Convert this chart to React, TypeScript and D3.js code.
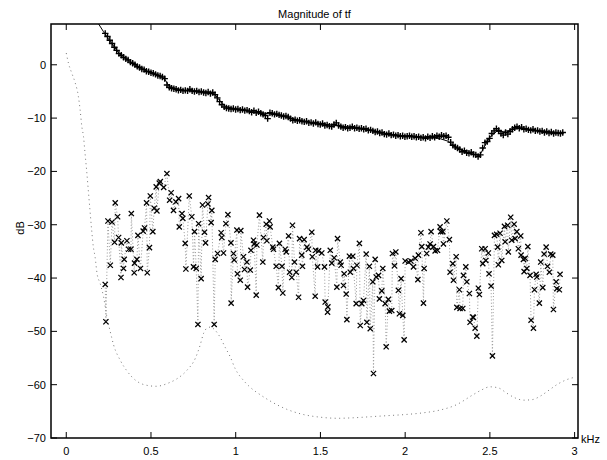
import React from "react";
import * as d3 from "d3";

// ---------- DATA ----------
const xTicks = [0, 0.5, 1, 1.5, 2, 2.5, 3];
const xTickLabels = ["0", "0.5", "1", "1.5", "2", "2.5", "3"];
const yTicks = [-70, -60, -50, -40, -30, -20, -10, 0];
const yTickLabels = ["\u221270", "\u221260", "\u221250", "\u221240", "\u221230", "\u221220", "\u221210", "0"];

// model fit (solid line): [kHz, dB]
const fitLine: [number, number][] = [
  [0.19, 7.7], [0.22, 6.2], [0.25, 4.8], [0.28, 3.5], [0.31, 2.2], [0.35, 1.2], [0.4, 0.1],
  [0.45, -0.8], [0.5, -1.5], [0.55, -2.1], [0.58, -2.6], [0.6, -3.7], [0.63, -4.3], [0.7, -4.8],
  [0.8, -5.0], [0.87, -5.3], [0.9, -6.5], [0.94, -7.8], [1.0, -8.3], [1.1, -8.8], [1.2, -9.2],
  [1.3, -9.8], [1.4, -10.6], [1.5, -11.1], [1.6, -11.4], [1.7, -11.8], [1.8, -12.3], [1.9, -13.0],
  [2.0, -13.4], [2.1, -13.6], [2.2, -13.8], [2.25, -14.3], [2.3, -15.5], [2.35, -16.2], [2.4, -16.7],
  [2.44, -17.0], [2.47, -15.2], [2.5, -13.6], [2.54, -12.5], [2.58, -12.5], [2.62, -12.3],
  [2.66, -11.8], [2.7, -12.0], [2.8, -12.5], [2.93, -12.9],
];

// measured magnitude ('+' markers), on a uniform frequency grid
const plusStart = 0.23;
const plusStep = 0.0135;
const plusDb = [
  5.9, 5.3, 4.6, 4.0, 3.3, 2.7, 2.1, 1.8, 1.4, 1.1, 0.9, 0.5, 0.3, 0.0, -0.3, -0.5, -0.8, -0.9, -1.2, -1.3,
  -1.5, -1.6, -1.8, -2.0, -2.1, -2.3, -2.6, -3.8, -4.2, -4.4, -4.5, -4.6, -4.8, -4.7, -4.9, -4.8, -4.9, -4.6, -4.9, -5.0,
  -4.9, -5.1, -5.0, -5.2, -5.3, -5.1, -5.4, -5.2, -5.6, -6.2, -6.9, -7.5, -7.9, -8.1, -8.2, -8.3, -8.2, -8.4, -8.3, -8.5,
  -8.4, -8.6, -8.5, -8.7, -8.9, -8.6, -9.0, -8.8, -9.1, -9.3, -9.5, -10.1, -9.0, -9.1, -9.3, -9.2, -9.4, -9.5, -9.7, -9.6,
  -9.8, -10.1, -10.4, -10.3, -10.5, -10.4, -10.6, -10.7, -10.6, -10.9, -10.8, -11.0, -10.8, -11.1, -11.2, -11.0, -11.4, -11.3, -11.5, -11.6,
  -11.2, -10.9, -11.4, -11.6, -11.8, -11.7, -11.9, -11.8, -11.6, -11.9, -11.8, -12.0, -11.9, -12.1, -12.0, -12.3, -12.2, -12.4, -12.6, -12.5,
  -12.8, -12.7, -13.0, -13.1, -12.9, -13.2, -13.1, -13.3, -13.2, -13.4, -13.3, -13.5, -13.4, -13.3, -13.5, -13.4, -13.6, -13.5, -13.7, -13.6,
  -13.8, -13.5, -13.7, -13.4, -13.6, -13.3, -13.5, -13.2, -13.4, -13.3, -13.6, -14.5, -15.1, -15.4, -15.6, -15.9, -16.3, -16.1, -16.5, -16.6,
  -16.4, -16.8, -16.9, -17.2, -16.9, -15.6, -14.6, -14.4, -13.8, -12.9, -12.4, -12.0, -12.3, -12.9, -13.2, -12.7, -13.0, -12.5, -12.1, -11.8,
  -11.6, -11.9, -11.7, -12.1, -12.0, -12.2, -12.3, -12.1, -12.4, -12.3, -12.5, -12.4, -12.7, -12.5, -12.8, -12.6, -12.9, -12.7, -12.8, -12.9,
  -12.7,
];

// residual ('x' markers joined by dotted line)
const crossKHz = [
  0.23, 0.234, 0.246, 0.26, 0.27, 0.285, 0.289, 0.303, 0.309, 0.323, 0.325, 0.338, 0.342, 0.358, 0.368, 0.382, 0.384, 0.401, 0.403, 0.417,
  0.423, 0.438, 0.454, 0.462, 0.474, 0.478, 0.491, 0.496, 0.511, 0.519, 0.531, 0.535, 0.549, 0.555, 0.575, 0.594, 0.61, 0.619, 0.633, 0.647,
  0.663, 0.667, 0.683, 0.688, 0.702, 0.706, 0.726, 0.741, 0.751, 0.757, 0.767, 0.777, 0.781, 0.796, 0.804, 0.816, 0.822, 0.836, 0.84, 0.855,
  0.859, 0.873, 0.879, 0.893, 0.914, 0.918, 0.928, 0.942, 0.954, 0.972, 0.973, 0.987, 0.991, 1.007, 1.01, 1.027, 1.03, 1.046, 1.052, 1.066,
  1.07, 1.086, 1.09, 1.105, 1.109, 1.121, 1.125, 1.14, 1.16, 1.164, 1.18, 1.184, 1.199, 1.203, 1.219, 1.223, 1.239, 1.252, 1.258, 1.273,
  1.278, 1.292, 1.298, 1.312, 1.318, 1.331, 1.335, 1.347, 1.357, 1.371, 1.377, 1.39, 1.394, 1.404, 1.42, 1.429, 1.449, 1.452, 1.469, 1.472,
  1.483, 1.489, 1.508, 1.524, 1.528, 1.542, 1.544, 1.558, 1.567, 1.581, 1.597, 1.601, 1.617, 1.622, 1.636, 1.64, 1.652, 1.656, 1.671, 1.676,
  1.691, 1.695, 1.711, 1.715, 1.73, 1.735, 1.744, 1.754, 1.77, 1.774, 1.789, 1.794, 1.809, 1.813, 1.823, 1.829, 1.843, 1.848, 1.862, 1.868,
  1.882, 1.888, 1.901, 1.907, 1.921, 1.925, 1.937, 1.945, 1.96, 1.966, 1.976, 1.986, 1.994, 2.0, 2.02, 2.034, 2.049, 2.059, 2.075, 2.078,
  2.093, 2.098, 2.108, 2.112, 2.127, 2.137, 2.147, 2.153, 2.167, 2.177, 2.191, 2.206, 2.21, 2.222, 2.226, 2.246, 2.261, 2.265, 2.281, 2.285,
  2.301, 2.305, 2.32, 2.324, 2.34, 2.344, 2.358, 2.364, 2.379, 2.383, 2.399, 2.403, 2.413, 2.423, 2.432, 2.438, 2.452, 2.458, 2.472, 2.476,
  2.491, 2.495, 2.507, 2.515, 2.527, 2.54, 2.546, 2.55, 2.56, 2.57, 2.586, 2.59, 2.605, 2.609, 2.623, 2.629, 2.643, 2.649, 2.659, 2.668,
  2.682, 2.684, 2.698, 2.702, 2.708, 2.718, 2.724, 2.737, 2.743, 2.757, 2.763, 2.773, 2.777, 2.792, 2.8, 2.812, 2.82, 2.832, 2.84, 2.851,
  2.859, 2.871, 2.875, 2.891, 2.895, 2.91, 2.914,
];
const crossDb = [
  -41.2, -48.2, -29.3, -37.6, -29.5, -33.3, -25.9, -28.5, -32.4, -39.9, -33.4, -38.2, -36.5, -33.0, -34.6, -34.6, -27.9, -39.0, -37.2, -36.5,
  -32.0, -38.2, -31.2, -30.6, -25.9, -39.0, -34.3, -24.6, -31.3, -26.9, -22.9, -27.4, -22.2, -21.9, -23.0, -20.4, -25.4, -24.0, -27.3, -25.7,
  -25.1, -30.4, -27.9, -28.8, -33.5, -38.3, -24.6, -28.5, -37.9, -31.3, -38.2, -48.7, -29.8, -40.1, -26.3, -31.4, -33.4, -26.1, -24.9, -29.6,
  -27.3, -48.7, -36.5, -35.4, -31.5, -32.4, -35.3, -29.8, -28.1, -33.4, -44.7, -35.4, -36.6, -31.0, -39.2, -40.4, -31.1, -36.0, -38.4, -37.0,
  -41.7, -38.5, -34.8, -32.9, -33.6, -43.2, -33.8, -28.2, -37.0, -32.4, -29.9, -33.0, -29.3, -30.4, -34.2, -34.6, -37.8, -41.8, -33.5, -37.8,
  -42.8, -34.6, -35.1, -32.1, -38.9, -39.9, -30.1, -37.0, -38.9, -43.6, -32.6, -35.7, -37.8, -32.8, -34.2, -34.6, -31.4, -36.0, -43.4, -34.8,
  -37.9, -34.9, -35.3, -37.9, -44.5, -46.4, -45.4, -34.8, -37.2, -36.2, -41.7, -32.6, -37.0, -37.6, -41.4, -39.2, -43.0, -47.8, -35.9, -38.9,
  -35.9, -38.2, -44.8, -37.6, -33.5, -48.9, -44.8, -44.2, -35.5, -48.3, -37.8, -49.5, -40.7, -57.9, -36.5, -39.8, -39.5, -43.9, -42.4, -38.2,
  -44.8, -52.9, -44.0, -46.2, -46.1, -35.4, -37.7, -35.1, -42.3, -46.7, -40.1, -47.0, -51.6, -36.8, -37.0, -36.8, -37.9, -36.3, -40.3, -35.7,
  -31.5, -34.1, -44.7, -38.2, -35.4, -34.2, -33.6, -31.3, -34.1, -34.9, -34.8, -30.4, -31.3, -31.3, -33.6, -29.3, -32.8, -38.9, -37.3, -40.4,
  -36.0, -45.5, -42.2, -45.7, -45.7, -39.5, -37.9, -40.7, -42.9, -48.3, -47.3, -47.4, -49.4, -50.9, -41.9, -43.1, -34.5, -37.3, -34.5, -36.7,
  -35.3, -39.2, -41.5, -54.6, -32.0, -31.8, -34.2, -37.5, -31.6, -36.7, -30.3, -33.2, -30.1, -35.1, -28.6, -32.9, -29.9, -32.6, -31.3, -34.5,
  -32.1, -35.7, -36.5, -38.8, -36.3, -38.2, -34.1, -39.5, -47.9, -49.4, -42.2, -39.3, -39.8, -44.7, -37.0, -41.8, -35.5, -34.2, -37.8, -38.9,
  -35.5, -35.7, -45.9, -40.7, -42.0, -42.2, -39.3,
];

// filter response (dotted curve from 0 to 3 kHz)
const filterKHz = [
  0, 0.013, 0.033, 0.053, 0.072, 0.082, 0.092, 0.102, 0.11, 0.12, 0.13, 0.14, 0.15, 0.16, 0.17, 0.182,
  0.2, 0.22, 0.24, 0.26, 0.28, 0.32, 0.36, 0.41, 0.46, 0.53, 0.61, 0.653, 0.712, 0.761, 0.79, 0.81, 0.83, 0.85, 0.879,
  0.908, 0.938, 0.968, 0.997, 1.046, 1.086, 1.15, 1.2, 1.3, 1.4, 1.5, 1.6, 1.7, 1.8, 1.9, 2.0, 2.1, 2.2, 2.3, 2.4, 2.45,
  2.5, 2.55, 2.6, 2.65, 2.7, 2.75, 2.8, 2.85, 2.9, 2.95, 3.0,
];
const filterDb = [
  2.2, 0.3, -1.6, -3.4, -6.0, -8.5, -11.6, -13.5, -16.3, -19.7, -23.5, -27.3, -31.0, -34.2, -36.0, -39.2,
  -41.0, -43.5, -47.3, -50.1, -52.6, -55.5, -57.5, -59.2, -60.0, -60.3, -59.6, -58.9, -57.3, -55.1, -52.6, -50.4, -49.4, -49.2, -49.8,
  -51.1, -53.0, -54.8, -57.0, -59.2, -60.5, -62.0, -63.0, -64.6, -65.6, -66.1, -66.3, -66.2, -66.0, -65.8, -65.6, -65.3, -64.8, -63.8, -61.9, -61.0,
  -60.4, -60.6, -61.6, -62.5, -62.9, -62.8, -62.1, -61.0, -59.9, -59.1, -58.6,
];

// ---------- CHART ----------
const W = 607;
const H = 460;
const left = 51;
const right = 578;
const top = 24;
const bottom = 438;

export default function App() {
  const x = d3.scaleLinear().domain([-0.09, 3.02]).range([left, right]);
  const y = d3.scaleLinear().domain([-70, 7.65]).range([bottom, top]);

  const line = d3
    .line<[number, number]>()
    .x((d) => x(d[0]))
    .y((d) => y(d[1]));

  const plusPts: [number, number][] = plusDb.map((v, i) => [plusStart + i * plusStep, v]);
  const crossPts: [number, number][] = crossKHz.map((f, i) => [f, crossDb[i]]);
  const filterPts: [number, number][] = filterKHz.map((f, i) => [f, filterDb[i]]);
  const filterLine = d3
    .line<[number, number]>()
    .x((d) => x(d[0]))
    .y((d) => y(d[1]))
    .curve(d3.curveMonotoneX);

  const font = "'Liberation Sans', Arial, Helvetica, sans-serif";
  const cs = 2.6;
  const ps = 3.2;
  const tl = 6;

  return (
    <svg
      width={W}
      height={H}
      style={{ position: "absolute", left: 0, top: 0, background: "#fff" }}
      fontFamily={font}
    >
      <rect x={0} y={0} width={W} height={H} fill="#fff" />
      <defs>
        <clipPath id="plotclip">
          <rect x={left} y={top} width={right - left} height={bottom - top} />
        </clipPath>
      </defs>
      <g clipPath="url(#plotclip)">
        <path d={filterLine(filterPts) || ""} fill="none" stroke="#777" strokeWidth={1} strokeDasharray="1 3.5" />
        <path d={line(crossPts) || ""} fill="none" stroke="#999" strokeWidth={1} strokeDasharray="1 2.2" />
        {crossPts.map((d, i) => (
          <path
            key={"c" + i}
            d={`M${x(d[0]) - cs},${y(d[1]) - cs}L${x(d[0]) + cs},${y(d[1]) + cs}M${x(d[0]) - cs},${y(d[1]) + cs}L${x(d[0]) + cs},${y(d[1]) - cs}`}
            stroke="#000"
            strokeWidth={1.25}
            fill="none"
          />
        ))}
        <path d={line(fitLine) || ""} fill="none" stroke="#000" strokeWidth={1} />
        {plusPts.map((d, i) => (
          <path
            key={"p" + i}
            d={`M${x(d[0]) - ps},${y(d[1])}L${x(d[0]) + ps},${y(d[1])}M${x(d[0])},${y(d[1]) - ps}L${x(d[0])},${y(d[1]) + ps}`}
            stroke="#000"
            strokeWidth={1.4}
            fill="none"
          />
        ))}
      </g>

      {/* axes box */}
      <rect x={left} y={top} width={right - left} height={bottom - top} fill="none" stroke="#000" strokeWidth={1.5} />
      {xTicks.map((t, i) => (
        <g key={"xt" + i}>
          <line x1={x(t)} x2={x(t)} y1={bottom} y2={bottom - tl} stroke="#000" strokeWidth={1} />
          <line x1={x(t)} x2={x(t)} y1={top} y2={top + tl} stroke="#000" strokeWidth={1} />
          <text x={x(t)} y={455} textAnchor="middle" fontSize={11} fill="#000">
            {xTickLabels[i]}
          </text>
        </g>
      ))}
      {yTicks.map((t, i) => (
        <g key={"yt" + i}>
          <line x1={left} x2={left + tl} y1={y(t)} y2={y(t)} stroke="#000" strokeWidth={1} />
          <line x1={right} x2={right - tl} y1={y(t)} y2={y(t)} stroke="#000" strokeWidth={1} />
          <text x={46} y={y(t) + 4} textAnchor="end" fontSize={11} fill="#000">
            {yTickLabels[i]}
          </text>
        </g>
      ))}
      <text x={581} y={443} fontSize={11} fill="#000">
        kHz
      </text>
      <text x={(left + right) / 2} y={18} textAnchor="middle" fontSize={11} fill="#000">
        Magnitude of tf
      </text>
      <text transform={`translate(24,228) rotate(-90)`} textAnchor="middle" fontSize={11} fill="#000">
        dB
      </text>
    </svg>
  );
}
